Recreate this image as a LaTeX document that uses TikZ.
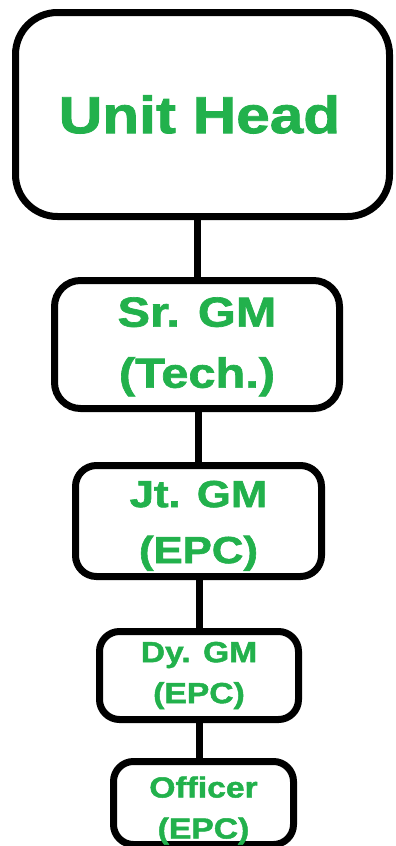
\documentclass[tikz,border=0pt]{standalone}
\usepackage{fontspec}
\newfontfamily\lbl{Liberation Sans}[FakeStretch=1.16,FakeBold=1.6]
\definecolor{paintgreen}{RGB}{34,177,76}
\newcommand{\lowerby}[1]{\rule{0pt}{#1}}
\begin{document}
\begin{tikzpicture}[x=1pt,y=-1pt,
  box/.style={draw=black, line width=7pt, fill=white, align=center,
    text=paintgreen, inner sep=0pt, font=\lbl\bfseries},
  link/.style={draw=black, line width=7pt}]
\useasboundingbox (0,0) rectangle (396,846);
\clip (0,0) rectangle (396,846);
\node[box, rounded corners=42pt, minimum width=374pt, minimum height=204pt,
  font=\lbl\bfseries\fontsize{52}{60}\selectfont] (uh) at (202.5,114.5) {Unit Head\hspace*{6pt}};
\node[box, rounded corners=26pt, minimum width=285pt, minimum height=128pt,
  font=\lbl\bfseries\fontsize{42}{61}\selectfont] (sr) at (197,344.5) {\lowerby{34pt}Sr. GM\\(Tech.)};
\node[box, rounded corners=21pt, minimum width=246pt, minimum height=111pt,
  font=\lbl\bfseries\fontsize{37.7}{56}\selectfont] (jt) at (198.5,521) {\lowerby{36pt}Jt. GM\\(EPC)};
\node[box, rounded corners=20pt, minimum width=199pt, minimum height=88pt,
  font=\lbl\bfseries\fontsize{29}{41}\selectfont] (dy) at (199,675.5) {Dy. GM\\(EPC)};
\node[box, rounded corners=20pt, minimum width=180pt, minimum height=82pt,
  font=\lbl\bfseries\fontsize{29}{41}\selectfont] (off) at (203.5,803) {\lowerby{36pt}Officer\\(EPC)};
\draw[link] (sr.north) -- (sr.north |- uh.south);
\draw[link] (jt.north) -- (jt.north |- sr.south);
\draw[link] (dy.north) -- (dy.north |- jt.south);
\draw[link] (dy.south) -- (dy.south |- off.north);
\end{tikzpicture}
\end{document}
